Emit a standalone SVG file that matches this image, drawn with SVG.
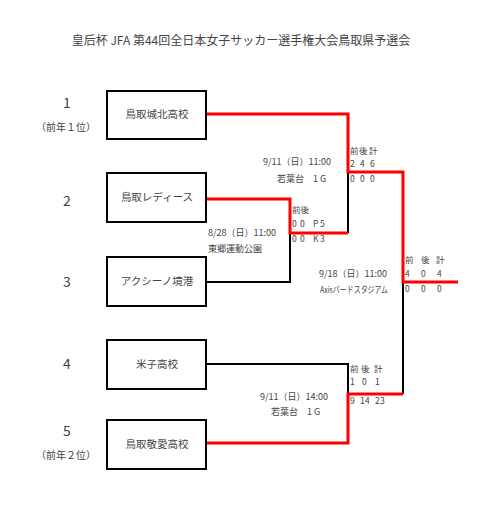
<svg xmlns="http://www.w3.org/2000/svg" width="479" height="520" viewBox="0 0 479 520">
<style>
text{font-family:"Noto Sans CJK JP","Noto Sans",sans-serif;fill:#444}
.box{fill:#fff;stroke:#000;stroke-width:2}
.bt{font-size:10.5px;text-anchor:middle}
.num{font-size:14px;text-anchor:middle}
.sub{font-size:10px;text-anchor:middle}
.s{font-size:9px}
.sc{font-size:8.5px}
.red{fill:none;stroke:#ff0000;stroke-width:3}
.blk{fill:none;stroke:#000;stroke-width:2}
</style>
<rect width="479" height="520" fill="#fff"/>
<text x="241" y="45" font-size="12" text-anchor="middle">皇后杯 JFA 第44回全日本女子サッカー選手権大会鳥取県予選会</text>
<g id="connectors">
<path class="blk" d="M348,172 V233"/>
<path class="blk" d="M206,282 H290 V233"/>
<path class="blk" d="M403,282 V394"/>
<path class="blk" d="M206,364 H348 V394"/>
<path class="red" d="M206,114 H348 V172 H403 V282 H458"/>
<path class="red" d="M206,199 H290 V233 H348"/>
<path class="red" d="M206,443 H348 V394 H403"/>
</g>
<g id="seed1">
<text class="num" x="67" y="108">1</text>
<text class="sub" x="66" y="131">（前年１位）</text>
</g>
<g id="seed2"><text class="num" x="67" y="206">2</text></g>
<g id="seed3"><text class="num" x="67" y="287">3</text></g>
<g id="seed4"><text class="num" x="67" y="369">4</text></g>
<g id="seed5">
<text class="num" x="67" y="436">5</text>
<text class="sub" x="66" y="459">（前年２位）</text>
</g>
<g id="team1"><rect class="box" x="107" y="91" width="99" height="48"/><text class="bt" x="157" y="118">鳥取城北高校</text></g>
<g id="team2"><rect class="box" x="107" y="173" width="99" height="49"/><text class="bt" x="157" y="201">鳥取レディース</text></g>
<g id="team3"><rect class="box" x="107" y="257" width="99" height="49"/><text class="bt" x="157" y="285">アクシーノ境港</text></g>
<g id="team4"><rect class="box" x="107" y="340" width="99" height="49"/><text class="bt" x="157" y="368">米子高校</text></g>
<g id="team5"><rect class="box" x="107" y="420" width="99" height="49"/><text class="bt" x="157" y="448">鳥取敬愛高校</text></g>
<g id="match-qf">
<text class="s" x="208" y="236">8/28（日）11:00</text>
<text class="s" x="208" y="252">東郷運動公園</text>
<text class="sc" x="292" y="213">前後</text>
<text class="sc" x="292 300 313 320" y="227">00P5</text>
<text class="sc" x="292 300 313 320" y="242">00K3</text>
</g>
<g id="match-sf1">
<text class="s" x="263" y="165">9/11（日）11:00</text>
<text class="s" x="277" y="182">若葉台　1 G</text>
<text class="sc" x="350 359 369" y="154">前後計</text>
<text class="sc" x="350 360 370" y="167">246</text>
<text class="sc" x="350 360 370" y="182">000</text>
</g>
<g id="match-sf2">
<text class="s" x="260" y="400">9/11（日）14:00</text>
<text class="s" x="271" y="415">若葉台　1 G</text>
<text class="sc" x="350 361 374" y="372">前後計</text>
<text class="sc" x="350 362 375" y="385">101</text>
<text class="sc" x="350 360 365 375 380" y="404">91423</text>
</g>
<g id="match-final">
<text class="s" x="319" y="277">9/18（日）11:00</text>
<text class="s" x="320" y="293" textLength="68" lengthAdjust="spacingAndGlyphs">Axisバードスタジアム</text>
<text class="sc" x="405 421 436" y="263" font-size="7.5">前後計</text>
<text class="sc" x="405 421 437" y="277">404</text>
<text class="sc" x="405 421 437" y="292">000</text>
</g>
</svg>
